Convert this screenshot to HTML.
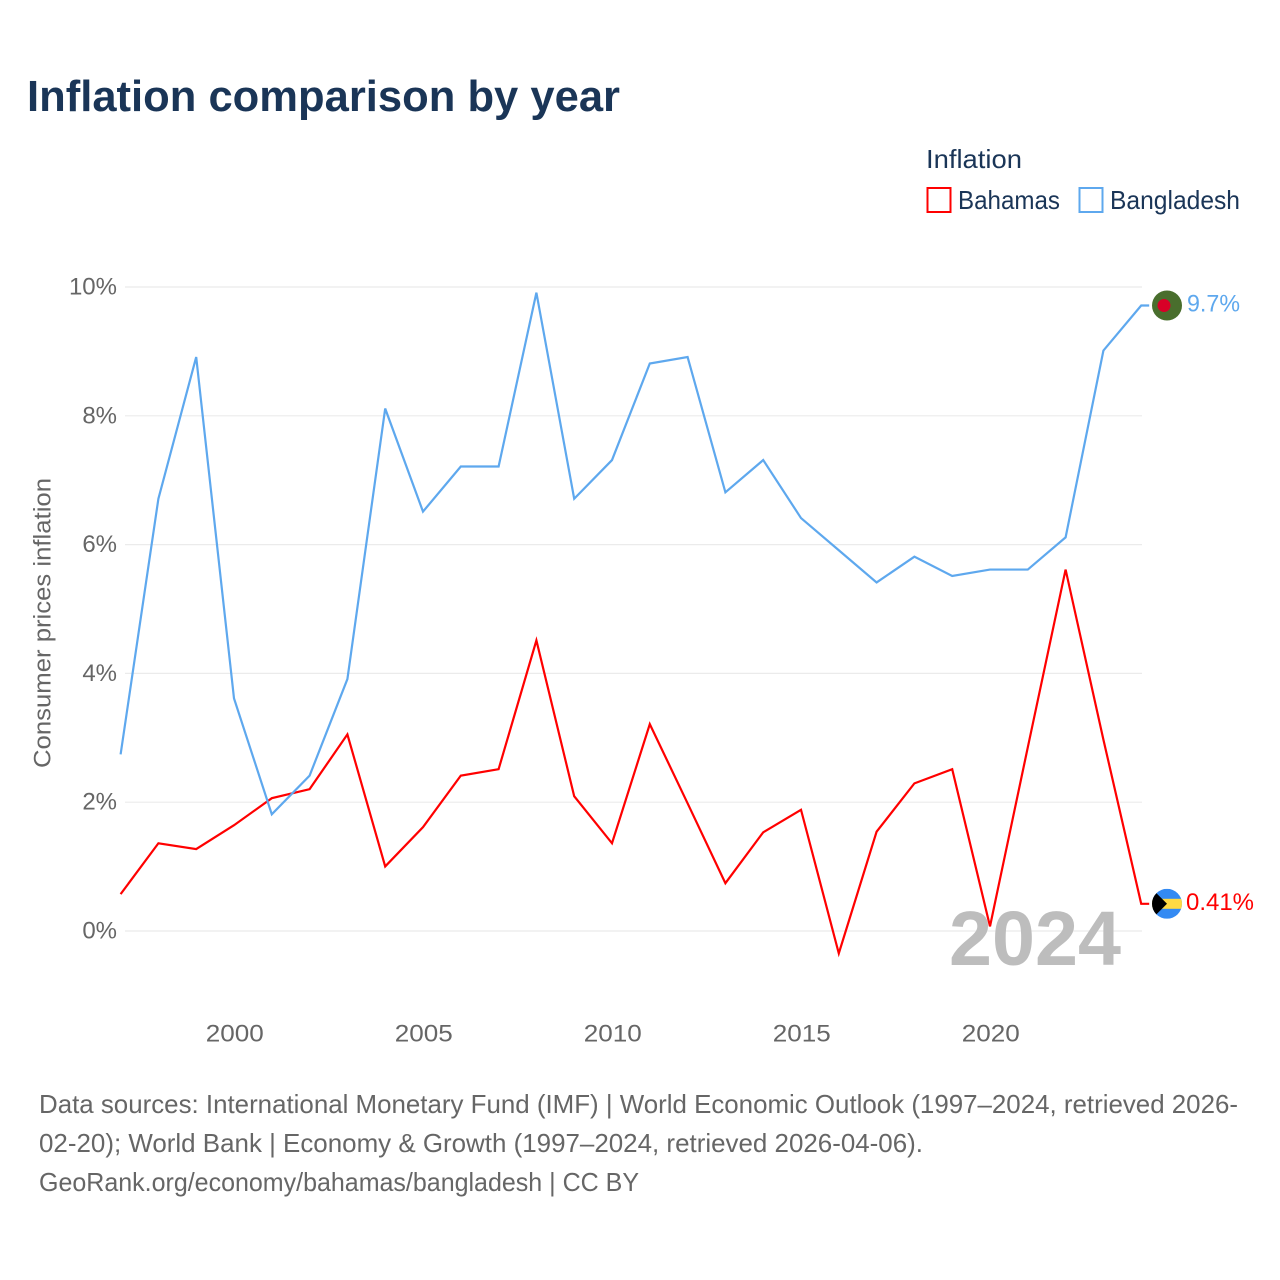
<!DOCTYPE html>
<html lang="en">
<head>
<meta charset="utf-8">
<title>Inflation comparison by year</title>
<style>
html,body{margin:0;padding:0;background:#fff;width:1280px;height:1280px;overflow:hidden}
svg{display:block}
text{font-family:"Liberation Sans",sans-serif}
</style>
</head>
<body>
<svg id="chart" xmlns="http://www.w3.org/2000/svg" width="1280" height="1280" viewBox="0 0 1280 1280">
  <rect width="1280" height="1280" fill="#ffffff"/>
  <text x="27" y="111" font-size="44" font-weight="700" fill="#1a3557" textLength="593" lengthAdjust="spacingAndGlyphs">Inflation comparison by year</text>

  <g>
    <text x="926" y="168" font-size="26" fill="#1a3557" textLength="96" lengthAdjust="spacingAndGlyphs">Inflation</text>
    <g>
      <rect x="927.5" y="188" width="23" height="24" fill="#fff" stroke="#ff0000" stroke-width="2"/>
      <text x="958" y="209" font-size="26" fill="#1a3557" textLength="102" lengthAdjust="spacingAndGlyphs">Bahamas</text>
    </g>
    <g>
      <rect x="1079.5" y="188" width="23" height="24" fill="#fff" stroke="#5ea8ee" stroke-width="2"/>
      <text x="1110" y="209" font-size="26" fill="#1a3557" textLength="130" lengthAdjust="spacingAndGlyphs">Bangladesh</text>
    </g>
  </g>

  <g id="grid"></g>
  <g id="y-axis"></g>
  <g id="x-axis"></g>
  <text transform="translate(50.5,623) rotate(-90)" text-anchor="middle" font-size="24" fill="#666666" textLength="290" lengthAdjust="spacingAndGlyphs">Consumer prices inflation</text>

  <text x="949" y="965" font-size="77" font-weight="700" fill="#bdbdbd" textLength="172" lengthAdjust="spacingAndGlyphs">2024</text>

  <g id="series"></g>

  <g id="end-markers"></g>

  <g font-size="26" fill="#666666">
    <text x="39" y="1113" textLength="1199" lengthAdjust="spacingAndGlyphs">Data sources: International Monetary Fund (IMF) | World Economic Outlook (1997–2024, retrieved 2026-</text>
    <text x="39" y="1152" textLength="884" lengthAdjust="spacingAndGlyphs">02-20); World Bank | Economy &amp; Growth (1997–2024, retrieved 2026-04-06).</text>
    <text x="39" y="1191" textLength="600" lengthAdjust="spacingAndGlyphs">GeoRank.org/economy/bahamas/bangladesh | CC BY</text>
  </g>
</svg>
<script>
const years = [1997,1998,1999,2000,2001,2002,2003,2004,2005,2006,2007,2008,2009,2010,2011,2012,2013,2014,2015,2016,2017,2018,2019,2020,2021,2022,2023,2024];
const bahamasValues = [0.56,1.35,1.26,1.63,2.05,2.19,3.04,0.99,1.6,2.4,2.5,4.5,2.08,1.35,3.2,1.97,0.73,1.52,1.87,-0.36,1.53,2.28,2.5,0.06,2.84,5.6,2.96,0.41];
const bangladeshValues = [2.73,6.7,8.9,3.6,1.8,2.4,3.9,8.1,6.5,7.2,7.2,9.9,6.7,7.3,8.8,8.9,6.8,7.3,6.4,5.9,5.4,5.8,5.5,5.6,5.6,6.1,9.0,9.7];
const yTicks = [0,2,4,6,8,10];
const xTicks = [2000,2005,2010,2015,2020];
const bahamasLabel = "0.41%";
const bangladeshLabel = "9.7%";

const NS = "http://www.w3.org/2000/svg";
function xScale(year){ return 120.6 + (year - 1997) * (1141.2 - 120.6) / 27; }
function yScale(v){ return 931 - v * 64.4; }
function make(parent, tag, attrs){
  const el = document.createElementNS(NS, tag);
  for (const k in attrs) el.setAttribute(k, attrs[k]);
  parent.appendChild(el);
  return el;
}
const grid = document.getElementById('grid');
const yAxis = document.getElementById('y-axis');
const xAxis = document.getElementById('x-axis');
const seriesGroup = document.getElementById('series');
const markers = document.getElementById('end-markers');

yTicks.forEach(function(t){
  const line = make(grid, 'line', {x1:125, x2:1142, y1:yScale(t), y2:yScale(t), stroke:'#ebebeb', 'stroke-width':1.2});
  
  
  const label = make(yAxis, 'text', {x:117, y:yScale(t)+7.5, 'text-anchor':'end', 'font-size':24, fill:'#666666'});
  
  
  label.textContent = t + '%';
});
xTicks.forEach(function(t){
  const label = make(xAxis, 'text', {x:xScale(t)+0.8, y:1041.5, 'text-anchor':'middle', 'font-size':24, fill:'#666666', textLength:58, lengthAdjust:'spacingAndGlyphs'});
  
  
  label.textContent = t;
});

function drawSeries(values, color, name){
  const pts = values.map(function(v,i){ return xScale(years[i]).toFixed(2) + ',' + (yScale(v) - 0.8).toFixed(2); });
  const last = values[values.length-1];
  pts.push((xScale(years[years.length-1]) + 8).toFixed(2) + ',' + (yScale(last) - 0.8).toFixed(2));
  const line = make(seriesGroup, 'polyline', {points:pts.join(' '), fill:'none', stroke:color, 'stroke-width':2.2, 'stroke-linejoin':'miter'});
  
  
}
drawSeries(bahamasValues, '#ff0000', 'line-bahamas');
drawSeries(bangladeshValues, '#5ea8ee', 'line-bangladesh');

const markerX = 1167;
// Bahamas flag
(function(){
  const cy = yScale(bahamasValues[bahamasValues.length-1]) - 0.8;
  const g = make(markers, 'g', {});
  
  
  const cp = make(g, 'clipPath', {id:'clip-bs'});
  make(cp, 'circle', {cx:markerX, cy:cy, r:15});
  const inner = make(g, 'g', {'clip-path':'url(#clip-bs)'});
  make(inner, 'rect', {x:markerX-15, y:cy-15, width:30, height:30, fill:'#338af3'});
  make(inner, 'rect', {x:markerX-15, y:cy-5, width:30, height:10, fill:'#ffda44'});
  make(inner, 'polygon', {points:(markerX-15)+','+(cy-15)+' '+(markerX)+','+cy+' '+(markerX-15)+','+(cy+15), fill:'#000000'});
  const label = make(markers, 'text', {x:1186, y:cy+6.2, 'font-size':24, fill:'#ff0000', textLength:68, lengthAdjust:'spacingAndGlyphs'});
  
  
  label.textContent = bahamasLabel;
})();
// Bangladesh flag
(function(){
  const cy = yScale(bangladeshValues[bangladeshValues.length-1]) - 0.8;
  const g = make(markers, 'g', {});
  
  
  make(g, 'circle', {cx:markerX, cy:cy, r:15, fill:'#496e2d'});
  make(g, 'circle', {cx:markerX-3, cy:cy, r:6.5, fill:'#d80027'});
  const label = make(markers, 'text', {x:1187, y:cy+6.2, 'font-size':24, fill:'#5ea8ee', textLength:53, lengthAdjust:'spacingAndGlyphs'});
  
  
  label.textContent = bangladeshLabel;
})();
</script>
</body>
</html>
